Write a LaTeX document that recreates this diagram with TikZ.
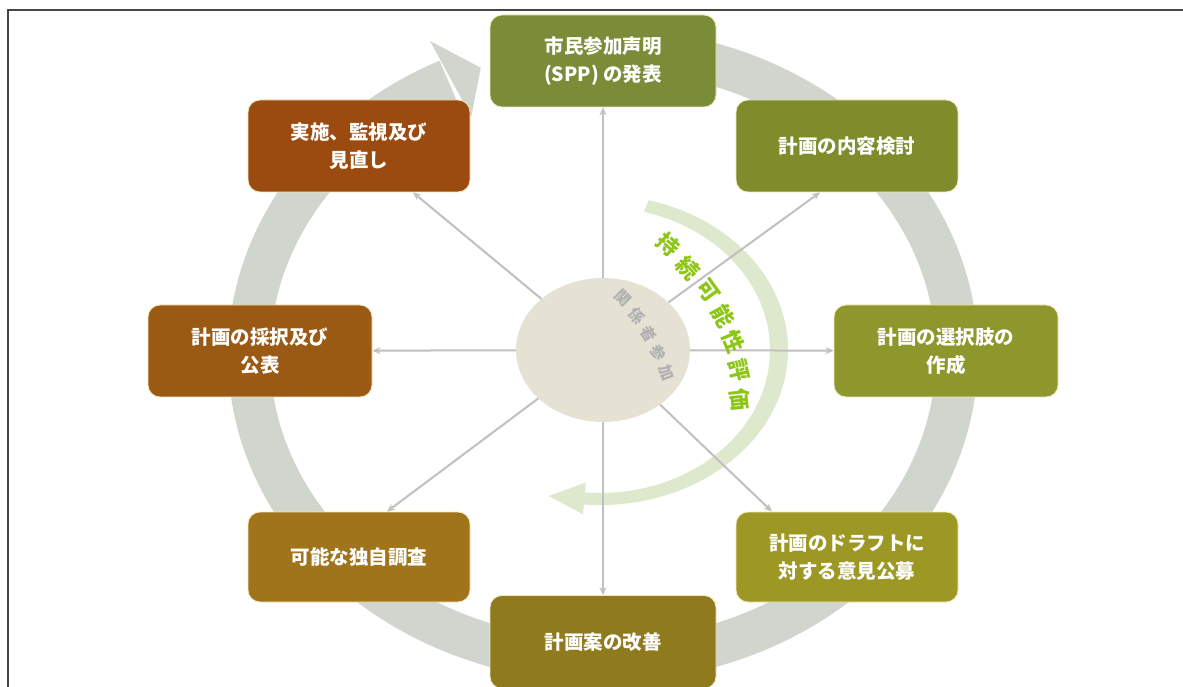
\documentclass[tikz,border=0pt]{standalone}
\usepackage{fontspec}
\setmainfont{Noto Sans CJK JP}
\usetikzlibrary{arrows.meta,calc,shapes.geometric}
\definecolor{ringc}{RGB}{208,213,205}
\definecolor{arcg}{RGB}{221,232,204}
\definecolor{spokec}{RGB}{192,192,192}
\definecolor{centc}{RGB}{229,226,212}
\definecolor{evalc}{RGB}{141,198,23}
\definecolor{stakec}{RGB}{176,176,176}
\definecolor{framec}{RGB}{70,70,70}
\definecolor{boxedge}{RGB}{242,232,190}
\definecolor{cA}{RGB}{122,140,55}
\definecolor{cB}{RGB}{126,140,44}
\definecolor{cC}{RGB}{142,151,44}
\definecolor{cD}{RGB}{157,152,36}
\definecolor{cE}{RGB}{143,122,30}
\definecolor{cF}{RGB}{160,116,26}
\definecolor{cG}{RGB}{155,90,20}
\definecolor{cH}{RGB}{155,75,15}
\begin{document}
\begin{tikzpicture}[x=1pt,y=1pt,
  box/.style={rounded corners=12pt, draw=boxedge, line width=0.8pt, text=white,
    font=\fontsize{19.5}{28}\selectfont\bfseries, align=center, inner sep=0pt},
  spoke/.style={draw=spokec, line width=2pt, -{Stealth[length=8pt,width=7pt]}},
  gchar/.style={text=evalc, font=\fontsize{22}{22}\selectfont\bfseries, inner sep=0pt},
  schar/.style={text=stakec, font=\fontsize{15.5}{15.5}\selectfont\bfseries, inner sep=0pt}]

\useasboundingbox (0,0) rectangle (1183,686);
\fill[white] (0,0) rectangle (1183,686);
\draw[framec, line width=1.5pt] (8,-5) -- (8,676) -- (1190,676);

% big cycle ring
\begin{scope}[shift={(603,331)}]
  \draw[ringc, line width=42pt] (88:354 and 306) arc[start angle=88, end angle=-244, x radius=354, y radius=306];
  \fill[ringc] (115.5:402 and 348) -- (110.2:354 and 306) -- (115.5:306 and 264) -- cycle;
\end{scope}

% sustainability assessment arc
\begin{scope}[shift={(600,336)}]
  \fill[arcg] (75:188 and 155) arc[start angle=75, end angle=-95, x radius=188, y radius=155]
    -- (-95:170 and 143) arc[start angle=-95, end angle=75, x radius=170, y radius=143] -- cycle;
  \fill[arcg] (-95:195 and 165) -- (-51,-146) -- (-95:163 and 133) -- cycle;
\end{scope}

% centre
\node[ellipse, fill=centc, minimum width=174pt, minimum height=144pt, inner sep=0pt] (c) at (603,336) {};

% boxes
\node[box, fill=cA, minimum width=226pt, minimum height=92pt] (b1) at (603,625) {市民参加声明\\(SPP) の発表};
\node[box, fill=cB, minimum width=222pt, minimum height=92pt] (b2) at (847,540) {計画の内容検討};
\node[box, fill=cC, minimum width=224pt, minimum height=92pt] (b3) at (946,335) {計画の選択肢の\\作成};
\node[box, fill=cD, minimum width=222pt, minimum height=90pt] (b4) at (847,129) {計画のドラフトに\\対する意見公募};
\node[box, fill=cE, minimum width=226pt, minimum height=93pt] (b5) at (603,44) {計画案の改善};
\node[box, fill=cF, minimum width=222pt, minimum height=90pt] (b6) at (359,129) {可能な独自調査};
\node[box, fill=cG, minimum width=224pt, minimum height=92pt] (b7) at (260,335) {計画の採択及び\\公表};
\node[box, fill=cH, minimum width=222pt, minimum height=92pt] (b8) at (359,540) {実施、監視及び\\見直し};

% spokes
\draw[spoke] (c) -- (b1);
\draw[spoke] (c) -- ([xshift=-27pt]b2.south);
\draw[spoke] (c) -- (b3);
\draw[spoke] (c) -- ([xshift=-75pt]b4.north);
\draw[spoke] (c) -- (b5);
\draw[spoke] (c) -- ([xshift=28pt]b6.north);
\draw[spoke] (c) -- (b7);
\draw[spoke] (c) -- ([xshift=54pt]b8.south);

% curved labels
\node[gchar, rotate=-42] (g1) at (668,441) {持};
\node[gchar, rotate=-48] (g2) at (688,418) {続};
\node[gchar, rotate=-54] (g3) at (708,395) {可};
\node[gchar, rotate=-61] (g4) at (723,370) {能};
\node[gchar, rotate=-68] (g5) at (733,344) {性};
\node[gchar, rotate=-76] (g6) at (739,316) {評};
\node[gchar, rotate=-84] (g7) at (740,286) {価};

\node[schar, rotate=-45] (s1) at (623,388) {関};
\node[schar, rotate=-52] (s2) at (637,370) {係};
\node[schar, rotate=-58] (s3) at (649,352) {者};
\node[schar, rotate=-64] (s4) at (658,333) {参};
\node[schar, rotate=-70] (s5) at (667,313) {加};
\end{tikzpicture}
\end{document}
